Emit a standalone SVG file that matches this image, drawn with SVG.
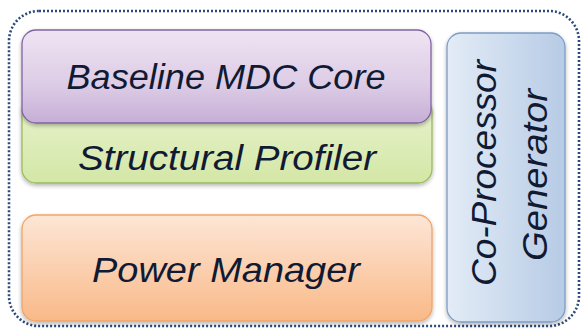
<svg xmlns="http://www.w3.org/2000/svg" width="585" height="332" viewBox="0 0 585 332">
<defs>
<linearGradient id="gPurple" x1="0" y1="0" x2="0" y2="1">
<stop offset="0" stop-color="#efe4f3"/><stop offset="0.6" stop-color="#dccbe5"/><stop offset="1" stop-color="#c6aed6"/>
</linearGradient>
<linearGradient id="gGreen" x1="0" y1="0" x2="0" y2="1">
<stop offset="0" stop-color="#e9f3cf"/><stop offset="1" stop-color="#d3e7a6"/>
</linearGradient>
<linearGradient id="gOrange" x1="0" y1="0" x2="0" y2="1">
<stop offset="0" stop-color="#fde6d6"/><stop offset="1" stop-color="#f9b988"/>
</linearGradient>
<linearGradient id="gBlue" x1="0" y1="0" x2="1" y2="0">
<stop offset="0" stop-color="#e3ecf7"/><stop offset="1" stop-color="#b7cbe5"/>
</linearGradient>
<filter id="sh" x="-5%" y="-5%" width="110%" height="120%">
<feGaussianBlur in="SourceAlpha" stdDeviation="2"/>
<feOffset dx="0" dy="2" result="b"/>
<feComponentTransfer><feFuncA type="linear" slope="0.3"/></feComponentTransfer>
<feMerge><feMergeNode/><feMergeNode in="SourceGraphic"/></feMerge>
</filter>
</defs>
<style>
.lbl{font-family:"Liberation Sans",Arial,sans-serif;font-style:italic;font-size:35px;fill:#111a33;text-anchor:middle}
.box{stroke-width:1.3}
</style>
<rect width="585" height="332" fill="#ffffff"/>
<rect id="frame" x="9" y="11" width="570" height="315" rx="30" fill="none" stroke="#2c4a7c" stroke-width="2.6" stroke-dasharray="2 2"/>
<g id="structural-profiler">
<rect class="box" x="22" y="98" width="410" height="85" rx="14" fill="url(#gGreen)" stroke="#9bbb59" filter="url(#sh)"/>
<text class="lbl" x="227" y="170" textLength="298" lengthAdjust="spacingAndGlyphs">Structural Profiler</text>
</g>
<g id="baseline-mdc-core">
<rect class="box" x="22" y="30" width="409" height="93" rx="14" fill="url(#gPurple)" stroke="#8064a2" filter="url(#sh)"/>
<text class="lbl" x="226" y="89" textLength="319" lengthAdjust="spacingAndGlyphs">Baseline MDC Core</text>
</g>
<g id="power-manager">
<rect class="box" x="22" y="215" width="410" height="106" rx="14" fill="url(#gOrange)" stroke="#f2a467" filter="url(#sh)"/>
<text class="lbl" x="226" y="282" textLength="268" lengthAdjust="spacingAndGlyphs">Power Manager</text>
</g>
<g id="co-processor-generator">
<rect class="box" x="447" y="33" width="118" height="289" rx="14" fill="url(#gBlue)" stroke="#7f9cc4" filter="url(#sh)"/>
<text class="lbl" transform="translate(496 173) rotate(-90)" x="0" y="0" textLength="226" lengthAdjust="spacingAndGlyphs">Co-Processor</text>
<text class="lbl" transform="translate(547 175) rotate(-90)" x="0" y="0" textLength="172" lengthAdjust="spacingAndGlyphs">Generator</text>
</g>
<g id="connectors"/>
</svg>
